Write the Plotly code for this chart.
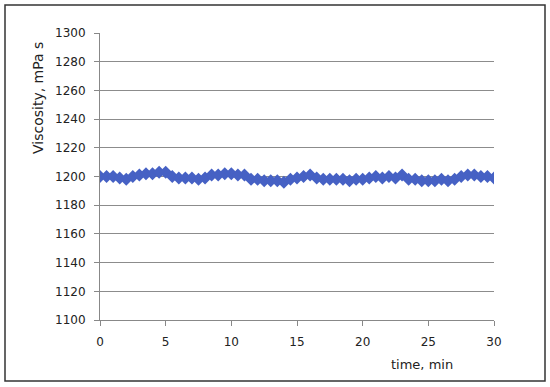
import plotly.graph_objects as go

time_min = [i * 0.5 for i in range(61)]
viscosity = [
    1200, 1200, 1200, 1199, 1198, 1200, 1201, 1202, 1202, 1203,
    1203, 1200, 1199, 1199, 1199, 1198, 1199, 1201, 1201, 1202,
    1202, 1201, 1201, 1198, 1198, 1197, 1197, 1197, 1196, 1198,
    1199, 1200, 1201, 1199, 1198, 1198, 1198, 1198, 1197, 1198,
    1198, 1199, 1200, 1199, 1200, 1199, 1201, 1198, 1198, 1197,
    1197, 1197, 1198, 1197, 1198, 1200, 1201, 1201, 1200, 1200,
    1199,
]
x_ticks = [0, 5, 10, 15, 20, 25, 30]
y_ticks = list(range(1100, 1301, 20))

color = "#4661c4"
fig = go.Figure()
fig.add_trace(go.Scatter(
    x=time_min, y=viscosity, mode="lines+markers",
    line=dict(color=color, width=2),
    marker=dict(symbol="diamond", size=10, color=color),
    showlegend=False,
))

font = dict(family="DejaVu Sans", size=12, color="#222222")
title_font = dict(family="DejaVu Sans", size=13, color="#222222")
fig.update_layout(
    width=550, height=387,
    margin=dict(l=100, r=56, t=33, b=67),
    paper_bgcolor="white", plot_bgcolor="white",
    font=font,
    xaxis=dict(range=[0, 30], tickvals=x_ticks, showgrid=False,
               showline=True, linecolor="#888888", linewidth=1,
               ticks="outside", ticklen=5, tickcolor="#888888",
               ticklabelstandoff=6,
               zeroline=False, fixedrange=True),
    yaxis=dict(range=[1100, 1300], tickvals=y_ticks, showgrid=True,
               gridcolor="#8c8c8c", gridwidth=1,
               showline=True, linecolor="#888888", linewidth=1,
               ticks="outside", ticklen=5, tickcolor="#888888",
               ticklabelstandoff=6,
               zeroline=False, fixedrange=True),
    annotations=[
        dict(text="Viscosity, mPa s", xref="paper", yref="paper",
             x=(38 - 100) / 394, y=(320 - 98) / 287, textangle=-90,
             xanchor="center", yanchor="middle",
             showarrow=False, font=dict(family="DejaVu Sans", size=14, color="#222222")),
        dict(text="time, min", xref="paper", yref="paper",
             x=(422 - 100) / 394, y=(320 - 364) / 287,
             xanchor="center", yanchor="middle",
             showarrow=False, font=title_font),
    ],
    shapes=[dict(type="rect", xref="paper", yref="paper",
                 x0=(5 - 100) / 394, x1=(545 - 100) / 394,
                 y0=(320 - 381) / 287, y1=(320 - 5) / 287,
                 line=dict(color="#333333", width=1.5))],
)
fig.write_html("out.html", config={"displayModeBar": False},
               post_script="document.body.style.margin='0';document.body.style.overflow='hidden';")
